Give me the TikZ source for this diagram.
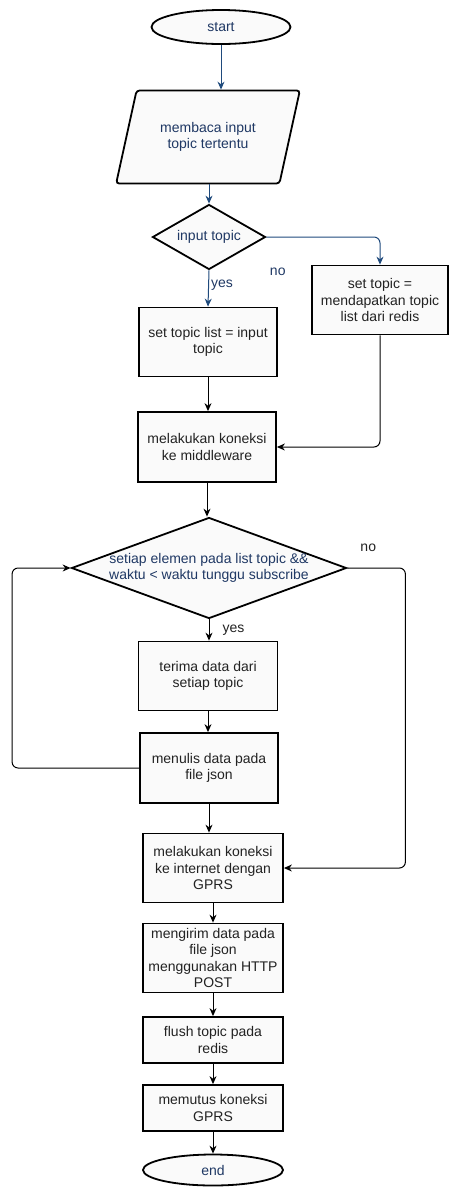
\documentclass[tikz,border=0pt]{standalone}
\usepackage{fontspec}
\setmainfont{Liberation Sans}
\usetikzlibrary{shapes.geometric,arrows.meta}

\definecolor{navytext}{HTML}{1F3864}
\definecolor{flowblue}{HTML}{1F4A7C}
\definecolor{boxfill}{HTML}{FAFAFA}
\definecolor{inktext}{HTML}{222222}

\tikzset{
  box/.style={draw,line width=1.8pt,fill=boxfill,align=center,text=inktext,
    minimum width=138pt,minimum height=69pt,inner sep=1pt},
  term/.style={draw,ellipse,line width=1.8pt,fill=boxfill,text=navytext,
    minimum width=139pt,minimum height=34pt,inner sep=0pt},
  io/.style={draw,trapezium,trapezium left angle=68,trapezium right angle=112,
    trapezium stretches=true,line width=1.8pt,fill=boxfill,align=center,
    text=navytext,rounded corners=3pt,minimum width=184pt,minimum height=93pt},
  decide/.style={draw,diamond,line width=1.8pt,fill=boxfill,inner sep=0pt},
  flow/.style={-{Stealth[length=8pt,width=7pt]},line width=1pt,draw=black,
    rounded corners=6pt},
  bflow/.style={flow,draw=flowblue},
  lbl/.style={text=inktext,inner sep=1pt},
  blbl/.style={text=navytext,inner sep=1pt}
}

\begin{document}
\begin{tikzpicture}[x=1pt,y=-1pt,font=\fontsize{14}{16.5}\selectfont]
  \useasboundingbox (0,0) rectangle (449,1187);

  \node[term]				(start)	at (221,27)	{start};
  \node[io]				(read)	at (208,137)	{membaca input\\topic tertentu};
  \node[decide,minimum width=113pt,minimum height=65pt,
    label={[blbl]center:input topic}]	(q1)	at (209,237)	{};
  \node[box,minimum width=136pt]	(settopic) at (380,300)	{set topic =\\mendapatkan topic\\list dari redis};
  \node[box,text=inktext]		(setlist) at (208,342)	{set topic list = input\\topic};
  \node[box,minimum height=70pt]	(mw)	at (207,447)	{melakukan koneksi\\ke middleware};
  \node[decide,minimum width=275pt,minimum height=101pt,
    label={[blbl,align=center]center:setiap elemen pada list topic \&\&\\waktu < waktu tunggu subscribe}]
					(q2)	at (209,568)	{};
  \node[box,minimum width=139pt]	(recv)	at (208,676)	{terima data dari\\setiap topic};
  \node[box,minimum height=70pt]	(write)	at (209,768)	{menulis data pada\\file json};
  \node[box,minimum width=140pt]	(gprs)	at (213,868)	{melakukan koneksi\\ke internet dengan\\GPRS};
  \node[box,minimum width=140pt]	(post)	at (213,958)	{mengirim data pada\\file json\\menggunakan HTTP\\POST};
  \node[box,minimum width=140pt,minimum height=46pt] (flush) at (213,1040) {flush topic pada\\redis};
  \node[box,minimum width=140pt,minimum height=46pt] (cut) at (213,1108) {memutus koneksi\\GPRS};
  \node[term,minimum width=140pt,minimum height=31pt] (end) at (213,1170) {end};

  % top part, blue connectors
  \draw[bflow] (start.south) -- (start.south |- read.north);
  \draw[bflow] (read.south -| q1.north) -- (q1.north);
  \draw[bflow] (q1.south) -- node[blbl,pos=0.42,anchor=west,xshift=1pt] {yes} (setlist.north);
  \draw[bflow] (q1.east) -| node[blbl,pos=0.05,below=29pt] {no} (settopic.north);

  \draw[flow] (setlist.south) -- (setlist.south |- mw.north);
  \draw[flow] (settopic.south) |- (mw.east);
  \draw[flow] (mw.south) -- (mw.south |- q2.north);

  % loop over topics
  \draw[flow] (q2.south) -- node[lbl,pos=0.5,anchor=west,xshift=12pt] {yes} (q2.south |- recv.north);
  \draw[flow] (recv.south) -- (recv.south |- write.north);
  \draw[flow] (write.west) -- ++(-127,0) |- (q2.west);
  \draw[flow] (q2.east) -- node[lbl,pos=0.36,above=15pt] {no} ++(58,0) |- (gprs.east);

  \draw[flow] (write.south) -- (write.south |- gprs.north);
  \draw[flow] (gprs.south) -- (post.north);
  \draw[flow] (post.south) -- (flush.north);
  \draw[flow] (flush.south) -- (cut.north);
  \draw[flow] (cut.south) -- (end.north);
\end{tikzpicture}
\end{document}
